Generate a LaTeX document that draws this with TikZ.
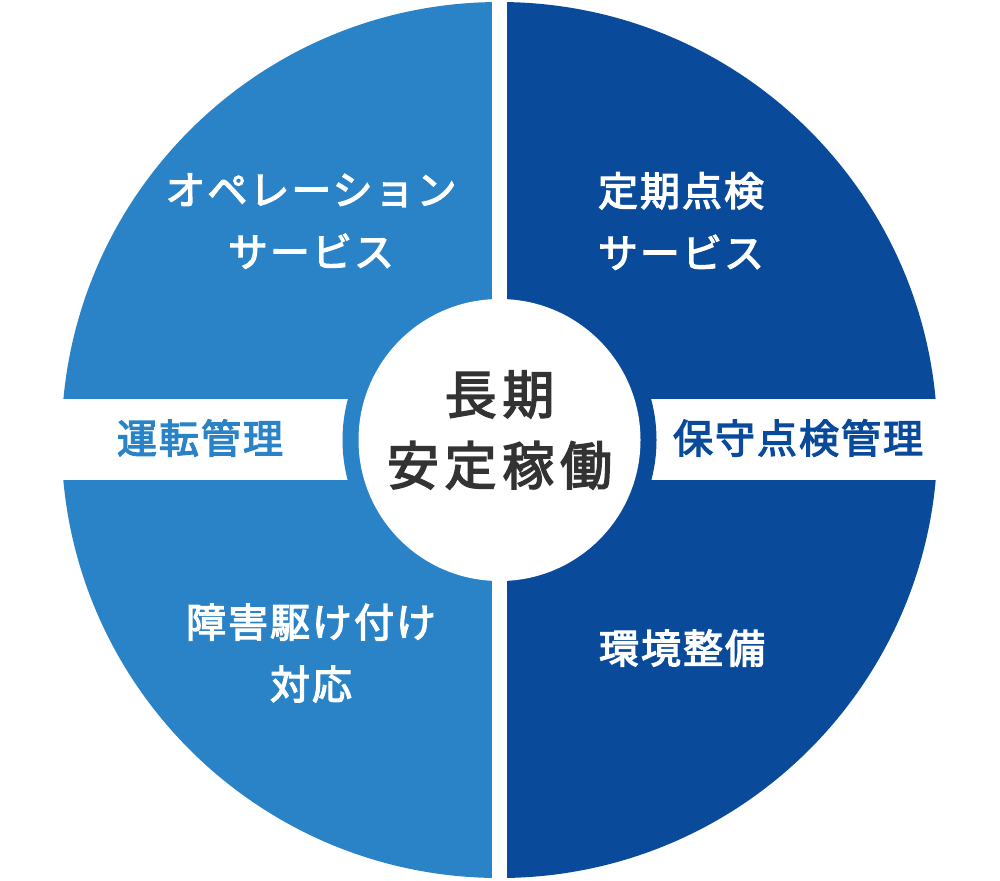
\documentclass[tikz,border=0pt]{standalone}
\usepackage{fontspec}
\newfontfamily\jp[FakeBold=3]{Noto Sans CJK JP}
\definecolor{azzurro}{HTML}{2A82C7}
\definecolor{bluscuro}{HTML}{0A4A9B}
\definecolor{grigiotesto}{HTML}{333333}
\begin{document}
\begin{tikzpicture}[
			x=0.5pt, y=-0.5pt,
			testoQ/.style={text=white, align=center, inner sep=0pt,
				font=\jp\addfontfeatures{LetterSpace=5}\fontsize{20}{31}\selectfont},
			testoF/.style={align=center, inner sep=0pt,
				font=\jp\addfontfeatures{LetterSpace=5}\fontsize{20}{24}\selectfont},
			testoC/.style={text=grigiotesto, align=center, inner sep=0pt,
				font=\jp\addfontfeatures{LetterSpace=11}\fontsize{26}{35.5}\selectfont}]
			\def\cx{499.5}
			\def\cy{440}
			\def\R{438}
			\def\Ranello{157}
			\def\Rbianco{141}
			\useasboundingbox (0,0) rectangle (1000,880);
			
			%% cerchio esterno: meta sinistra e destra
			\fill[azzurro] (\cx,\cy) -- ++(90:\R) arc (90:270:\R) -- cycle;
			\fill[bluscuro] (\cx,\cy) -- ++(-90:\R) arc (-90:90:\R) -- cycle;
			
			%% fascia orizzontale bianca
			\fill[white] (0,399) rectangle (1000,480);
			
			%% anello attorno al centro
			\fill[azzurro] (\cx,\cy) -- ++(90:\Ranello) arc (90:270:\Ranello) -- cycle;
			\fill[bluscuro] (\cx,\cy) -- ++(-90:\Ranello) arc (-90:90:\Ranello) -- cycle;
			
			%% fessura verticale e disco centrale
			\fill[white] (492,0) rectangle (507,880);
			\fill[white] (\cx,\cy) circle (\Rbianco);
			
			%% testi dei quadranti
			\node[testoQ] (operazioni) at (311,221) {オペレーション\\サービス};
			\node[testoQ] (ispezioni) at (681,221) {定期点検\\サービス};
			\node[testoQ] (guasti) at (311,653) {障害駆け付け\\対応};
			\node[testoQ] (ambiente) at (682,648) {環境整備};
			
			%% testi della fascia
			\node[testoF, text=azzurro] (esercizio) at (200,438) {運転管理};
			\node[testoF, text=bluscuro] (manutenzione) at (798,438) {保守点検管理};
			
			%% centro
			\node[testoC] (centro) at (\cx,430) {長期\\安定稼働};
		\end{tikzpicture}
\end{document}
